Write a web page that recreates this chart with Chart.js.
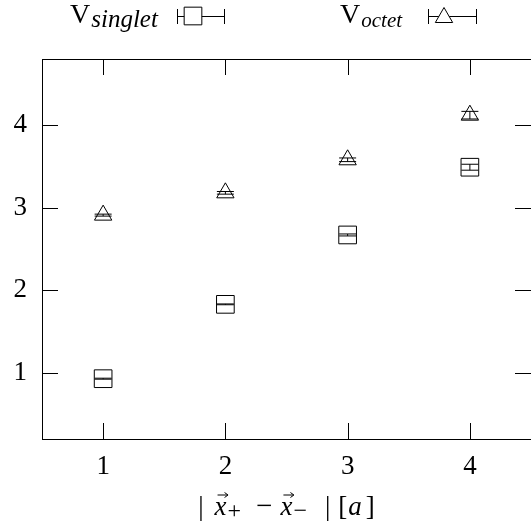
<!DOCTYPE html>
<html>
<head>
<meta charset="utf-8">
<script src="https://cdn.jsdelivr.net/npm/chart.js@4.4.1/dist/chart.umd.min.js"></script>
<style>
  html, body { margin: 0; padding: 0; background: #fff; overflow: hidden; }
  #wrap { width: 531px; height: 525px; overflow: hidden; }
  .fontwarm { position: absolute; left: -999px; top: 0; font-family: 'Liberation Serif'; }
</style>
</head>
<body>
<span class="fontwarm">V1234 <i>singlet octet xa</i></span>
<div id="wrap"><canvas id="chart" width="531" height="525"></canvas></div>
<script>
// separation |x+ - x-| in lattice units
var separations = [1, 2, 3, 4];
var singletValues = [0.93, 1.83, 2.67, 3.49];
var singletErrors = [0.006, 0.005, 0.012, 0.036];
var octetValues = [2.91, 3.18, 3.58, 4.12];
var octetErrors = [0.012, 0.016, 0.022, 0.046];
var xTickValues = [1, 2, 3, 4];
var yTickValues = [1, 2, 3, 4];
var xRange = [0.5, 4.5];
var yRange = [0.2, 4.8];

var SERIF = "'Liberation Serif', 'DejaVu Serif', serif";

function toPoints(values, errors) {
    return separations.map(function (x, i) {
        return { x: x, y: values[i], err: errors[i] };
    });
}

// little vector arrow above an x
function drawVecArrow(ctx, cx, y) {
    ctx.beginPath();
    ctx.moveTo(cx - 5, y);
    ctx.lineTo(cx + 5, y);
    ctx.moveTo(cx + 2, y - 2.5);
    ctx.lineTo(cx + 5.5, y);
    ctx.lineTo(cx + 2, y + 2.5);
    ctx.stroke();
}

function drawRich(ctx, parts, x, baseline, centered) {
    var total = 0;
    parts.forEach(function (p) {
        ctx.font = p.font;
        p.w = ctx.measureText(p.text).width;
        total += p.w + (p.gap || 0);
    });
    if (centered) x = x - total / 2;
    parts.forEach(function (p) {
        ctx.font = p.font;
        ctx.fillText(p.text, x, baseline + (p.dy || 0));
        if (p.arrow) drawVecArrow(ctx, x + p.w / 2 + 2, baseline - 20);
        x += p.w + (p.gap || 0);
    });
}

var framePlugin = {
    id: 'frame',
    afterDatasetsDraw: function (chart) {
        var ctx = chart.ctx;
        var ys = chart.scales.y;
        ctx.save();
        ctx.strokeStyle = '#000';
        ctx.lineWidth = 1;
        chart.data.datasets.forEach(function (ds, i) {
            var meta = chart.getDatasetMeta(i);
            meta.data.forEach(function (pt, j) {
                var d = ds.data[j];
                var top = ys.getPixelForValue(d.y + d.err);
                var bot = ys.getPixelForValue(d.y - d.err);
                var half = ds.capWidth / 2;
                ctx.beginPath();
                ctx.moveTo(pt.x, top);
                ctx.lineTo(pt.x, bot);
                ctx.moveTo(pt.x - half, top);
                ctx.lineTo(pt.x + half, top);
                ctx.moveTo(pt.x - half, bot);
                ctx.lineTo(pt.x + half, bot);
                ctx.stroke();
            });
        });
        ctx.restore();
    },
    afterDraw: function (chart) {
        var ctx = chart.ctx;
        var a = chart.chartArea;
        var xs = chart.scales.x, ys = chart.scales.y;
        var tick = 16;
        ctx.save();
        ctx.strokeStyle = '#000';
        ctx.fillStyle = '#000';
        ctx.lineWidth = 1;

        // frame (right edge falls just outside the canvas, as in the original)
        ctx.strokeRect(Math.round(a.left) + 0.5, Math.round(a.top) + 0.5,
            Math.round(a.right - a.left), Math.round(a.bottom - a.top));

        // inward ticks on all four sides
        ctx.beginPath();
        xTickValues.forEach(function (v) {
            var px = Math.round(xs.getPixelForValue(v)) + 0.5;
            ctx.moveTo(px, a.bottom);
            ctx.lineTo(px, a.bottom - tick);
            ctx.moveTo(px, a.top);
            ctx.lineTo(px, a.top + tick);
        });
        yTickValues.forEach(function (v) {
            var py = Math.round(ys.getPixelForValue(v)) + 0.5;
            ctx.moveTo(a.left, py);
            ctx.lineTo(a.left + tick, py);
            ctx.moveTo(a.right, py);
            ctx.lineTo(a.right - tick, py);
        });
        ctx.stroke();

        // legend
        var legends = [
            { sub: 'singlet', subSize: 25, textX: 70, capL: 177, capR: 224, markX: 193, markY: 16,
              style: { pointStyle: 'rect', radius: 12.5, borderWidth: 1 } },
            { sub: 'octet', subSize: 21, textX: 340, capL: 428, capR: 476, markX: 444, markY: 17.5,
              style: { pointStyle: 'triangle', radius: 10, borderWidth: 1 } }
        ];
        legends.forEach(function (l) {
            ctx.fillStyle = '#000';
            ctx.textAlign = 'left';
            ctx.textBaseline = 'alphabetic';
            drawRich(ctx, [
                { text: 'V', font: '28px ' + SERIF, gap: 1 },
                { text: l.sub, font: 'italic ' + l.subSize + 'px ' + SERIF, dy: 4 }
            ], l.textX, 23, false);
            ctx.beginPath();
            ctx.moveTo(l.capL, 16.5);
            ctx.lineTo(l.capR, 16.5);
            ctx.moveTo(l.capL + 0.5, 9);
            ctx.lineTo(l.capL + 0.5, 24);
            ctx.moveTo(l.capR + 0.5, 9);
            ctx.lineTo(l.capR + 0.5, 24);
            ctx.stroke();
            ctx.fillStyle = '#fff';
            Chart.helpers.drawPoint(ctx, l.style, l.markX, l.markY);
        });

        // x axis title  | x+ - x- | [a]
        ctx.fillStyle = '#000';
        var cx = (a.left + a.right) / 2;
        drawRich(ctx, [
            { text: '|', font: '27px ' + SERIF, gap: 11 },
            { text: 'x', font: 'italic 27px ' + SERIF, arrow: true, gap: 1 },
            { text: '+', font: '24px ' + SERIF, dy: 3, gap: 15 },
            { text: '\u2212', font: '29px ' + SERIF, gap: 8 },
            { text: 'x', font: 'italic 27px ' + SERIF, arrow: true, gap: 1 },
            { text: '\u2212', font: '24px ' + SERIF, dy: 3, gap: 18 },
            { text: '|', font: '27px ' + SERIF, gap: 8 },
            { text: '[', font: '27px ' + SERIF, gap: 1 },
            { text: 'a', font: 'italic 27px ' + SERIF, gap: 4 },
            { text: ']', font: '27px ' + SERIF }
        ], cx, 515, true);
        ctx.restore();
    }
};

function buildChart() {
    var chartCtx = document.getElementById('chart').getContext('2d');
    new Chart(chartCtx, {
        type: 'scatter',
        data: {
            datasets: [{
                label: 'V singlet',
                data: toPoints(singletValues, singletErrors),
                pointStyle: 'rect',
                pointRadius: 12.5,
                pointHoverRadius: 12.5,
                borderColor: '#000',
                backgroundColor: 'rgba(0,0,0,0)',
                borderWidth: 1,
                capWidth: 17
            }, {
                label: 'V octet',
                data: toPoints(octetValues, octetErrors),
                pointStyle: 'triangle',
                pointRadius: 10,
                pointHoverRadius: 10,
                borderColor: '#000',
                backgroundColor: 'rgba(0,0,0,0)',
                borderWidth: 1,
                capWidth: 17
            }]
        },
        options: {
            responsive: false,
            animation: false,
            devicePixelRatio: 1,
            events: [],
            // negative right padding pushes the plot frame past the canvas edge
            layout: { autoPadding: false, padding: { top: 59, right: -7, left: 0, bottom: 0 } },
            plugins: { legend: { display: false }, tooltip: { enabled: false } },
            scales: {
                x: {
                    type: 'linear',
                    min: xRange[0],
                    max: xRange[1],
                    afterFit: function (s) {
                        s.height = 86;
                        s.paddingLeft = 0;
                        s.paddingRight = 0;
                    },
                    afterBuildTicks: function (s) {
                        s.ticks = xTickValues.map(function (v) { return { value: v }; });
                    },
                    grid: { display: false, drawTicks: false },
                    border: { display: false },
                    ticks: { color: '#000', padding: 12, font: { family: SERIF, size: 27 } }
                },
                y: {
                    type: 'linear',
                    min: yRange[0],
                    max: yRange[1],
                    afterFit: function (s) {
                        s.width = 42;
                        s.paddingTop = 0;
                        s.paddingBottom = 0;
                    },
                    afterBuildTicks: function (s) {
                        s.ticks = yTickValues.map(function (v) { return { value: v }; });
                    },
                    grid: { display: false, drawTicks: false },
                    border: { display: false },
                    ticks: { color: '#000', padding: 15, font: { family: SERIF, size: 27 } }
                }
            }
        },
        plugins: [framePlugin]
    });
}

Promise.all([
    document.fonts.load("27px 'Liberation Serif'"),
    document.fonts.load("italic 27px 'Liberation Serif'")
]).then(buildChart, buildChart);
</script>
</body>
</html>
